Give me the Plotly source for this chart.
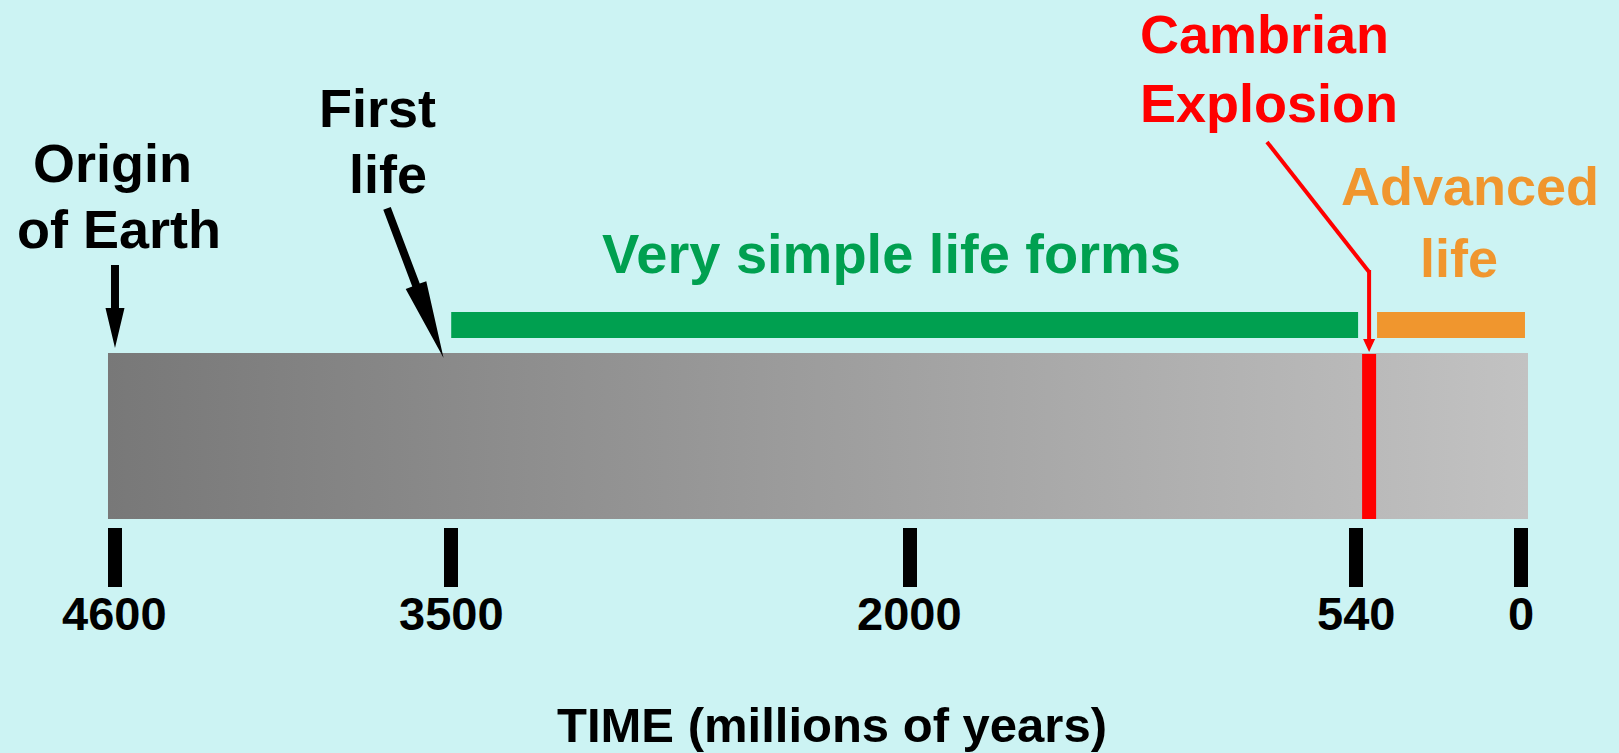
import math
import plotly.graph_objects as go

W, H = 1619, 753
BG = "#ccf3f3"
FONT = "Liberation Sans, Arial, Helvetica, sans-serif"

# ---------------- data (millions of years ago) ----------------
tick_values = [4600, 3500, 2000, 540, 0]
tick_labels = ["4600", "3500", "2000", "540", "0"]
timeline_span = [4600, 0]
simple_life_span = [3500, 533]
advanced_life_span = [471, -13]
cambrian_mark = 497
origin_arrow_tip = 4600
first_life_arrow_tip = 3525

# ---------------- axis mapping ----------------
XR = [4976.2, -320.6]


def x_to_px(v):
    return (v - XR[0]) / (XR[1] - XR[0]) * W


def px_to_x(p):
    return XR[0] + p / W * (XR[1] - XR[0])


def arrow_polygon(tip_x, tip_y, length, angle_deg, shaft_w, head_len, head_w):
    """Arrow polygon; tip in data x / pixel y, geometry in pixels.
    angle_deg > 0 means the tail lies up-left of the tip."""
    tx = x_to_px(tip_x)
    a = math.radians(angle_deg)
    dx, dy = math.sin(a), math.cos(a)  # direction pointing toward tip
    nx, ny = -dy, dx
    tail = (tx - length * dx, tip_y - length * dy)
    base = (tx - head_len * dx, tip_y - head_len * dy)
    pts = [
        (tail[0] + nx * shaft_w / 2, tail[1] + ny * shaft_w / 2),
        (base[0] + nx * shaft_w / 2, base[1] + ny * shaft_w / 2),
        (base[0] + nx * head_w / 2, base[1] + ny * head_w / 2),
        (tx, tip_y),
        (base[0] - nx * head_w / 2, base[1] - ny * head_w / 2),
        (base[0] - nx * shaft_w / 2, base[1] - ny * shaft_w / 2),
        (tail[0] - nx * shaft_w / 2, tail[1] - ny * shaft_w / 2),
    ]
    pts.append(pts[0])
    return [px_to_x(p[0]) for p in pts], [p[1] for p in pts]


fig = go.Figure()

# gray gradient timeline bar
pad = 7 / (W / abs(XR[1] - XR[0]))
gx0, gx1 = timeline_span[0] + pad, timeline_span[1] - pad
fig.add_trace(go.Scatter(
    x=[gx0, gx1, gx1, gx0, gx0], y=[353, 353, 519, 519, 353],
    mode="lines", line=dict(width=0), fill="toself",
    fillgradient=dict(type="horizontal",
                      colorscale=[[0, "#787878"], [1, "#c2c2c2"]]),
    hoverinfo="skip"))

# red Cambrian bar
fig.add_trace(go.Scatter(
    x=[cambrian_mark, cambrian_mark], y=[354, 519], mode="lines",
    line=dict(color="#ff0000", width=14), hoverinfo="skip"))

# green and orange bars
fig.add_trace(go.Scatter(
    x=simple_life_span, y=[325, 325], mode="lines",
    line=dict(color="#00a050", width=26), hoverinfo="skip"))
fig.add_trace(go.Scatter(
    x=advanced_life_span, y=[325, 325], mode="lines",
    line=dict(color="#f0962e", width=26), hoverinfo="skip"))

# black arrows
ax_, ay_ = arrow_polygon(origin_arrow_tip, 348, 83, 0, 8, 40, 19)
fig.add_trace(go.Scatter(x=ax_, y=ay_, mode="lines", fill="toself",
                         fillcolor="black", line=dict(width=0, color="black"),
                         hoverinfo="skip"))
bx_, by_ = arrow_polygon(first_life_arrow_tip, 358, 160, 20.7, 8, 78, 22)
fig.add_trace(go.Scatter(x=bx_, y=by_, mode="lines", fill="toself",
                         fillcolor="black", line=dict(width=0, color="black"),
                         hoverinfo="skip"))

# red Cambrian pointer
fig.add_trace(go.Scatter(
    x=[px_to_x(1267), cambrian_mark], y=[142, 272], mode="lines",
    line=dict(color="#ff0000", width=4), hoverinfo="skip"))
rx_, ry_ = arrow_polygon(cambrian_mark, 352, 82, 0, 4, 13, 12)
fig.add_trace(go.Scatter(x=rx_, y=ry_, mode="lines", fill="toself",
                         fillcolor="#ff0000", line=dict(width=0, color="#ff0000"),
                         hoverinfo="skip"))

# tick labels under the tick marks
for v, t in zip(tick_values, tick_labels):
    fig.add_annotation(
        x=v, xref="x", y=630 - 0.35 * 47, yref="y", text=t, showarrow=False,
        xanchor="center", yanchor="middle",
        font=dict(family=FONT, size=47, color="black", weight="bold"))

# text labels (pixel placement: center x, baseline y, size, color)
labels = [
    ("Origin", 112, 182, 54, "black"),
    ("of Earth", 119, 248, 54, "black"),
    ("First", 377, 127, 54, "black"),
    ("life", 388, 193, 54, "black"),
    ("Cambrian", 1264, 53, 54, "#ff0000"),
    ("Explosion", 1269, 122, 54, "#ff0000"),
    ("Advanced", 1470, 205, 54, "#f0962e"),
    ("life", 1459, 277, 54, "#f0962e"),
    ("Very simple life forms", 891, 273, 56, "#00a050"),
    ("TIME (millions of years)", 832, 742, 49, "black"),
]
for txt, cx, base, size, col in labels:
    fig.add_annotation(
        x=cx / W, xref="paper", y=base - 0.35 * size, yref="y",
        text=txt, showarrow=False, xanchor="center", yanchor="middle",
        font=dict(family=FONT, size=size, color=col, weight="bold"))

fig.update_layout(
    width=W, height=H,
    margin=dict(l=0, r=0, t=0, b=0, pad=0),
    paper_bgcolor=BG, plot_bgcolor=BG,
    showlegend=False,
    xaxis=dict(range=XR, anchor="free", position=1 - 527 / H,
               tickvals=tick_values, showticklabels=False,
               ticks="outside", ticklen=59, tickwidth=14, tickcolor="black",
               showline=False, showgrid=False, zeroline=False, fixedrange=True),
    yaxis=dict(range=[H, 0], visible=False, fixedrange=True),
)

fig.write_html("out.html", config={"displayModeBar": False})

# remove the default page margin so the figure fills the window
with open("out.html", "r", encoding="utf-8") as f:
    html = f.read()
html = html.replace("<head>", "<head><style>html,body{margin:0;padding:0;overflow:hidden;background:%s;}</style>" % BG, 1)
with open("out.html", "w", encoding="utf-8") as f:
    f.write(html)
